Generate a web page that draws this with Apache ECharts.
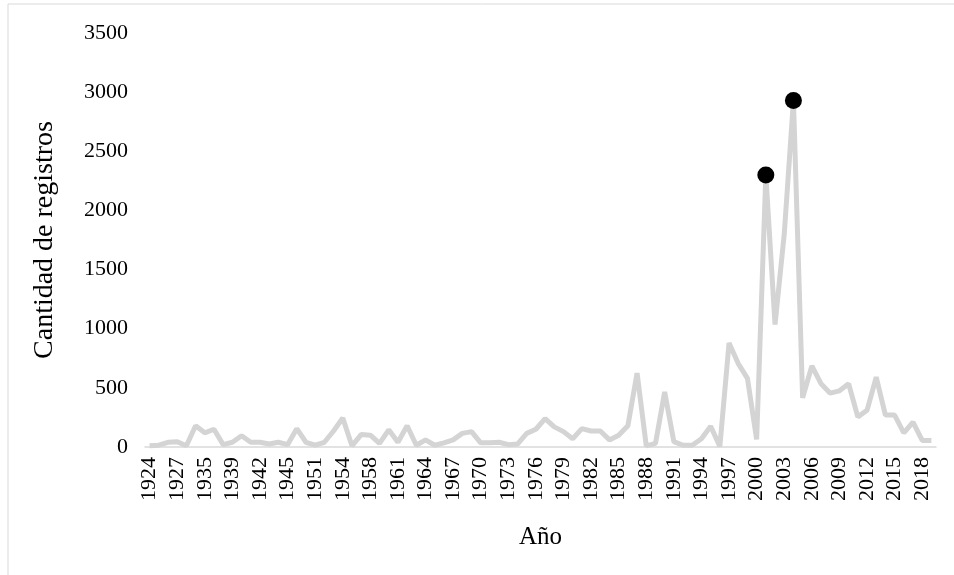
<!DOCTYPE html>
<html>
<head>
<meta charset="utf-8">
<script src="https://cdn.jsdelivr.net/npm/echarts@6/dist/echarts.min.js"></script>
<style>html,body{margin:0;padding:0;background:#fff;}#c{width:954px;height:575px;}</style>
</head>
<body>
<div id="c"></div>
<script>
var years = [1924,1925,1926,1927,1930,1933,1935,1936,1937,1939,1940,1941,1942,1943,1944,1945,1947,1949,1951,1952,1953,1954,1955,1956,1958,1959,1960,
1961,1962,1963,1964,1965,1966,1967,1968,1969,1970,1971,1972,1973,1974,1975,1976,1977,1978,1979,1980,
1981,1982,1983,1984,1985,1986,1987,1988,1989,1990,1991,1992,1993,1994,1995,1996,1997,1998,1999,2000,
2001,2002,2003,2004,2005,2006,2007,2008,2009,2010,2011,2012,2013,2014,2015,2016,2017,2018,2019];
var registros = [10,15,40,45,10,180,120,150,20,40,95,40,40,25,40,20,155,40,15,40,135,245,10,105,100,30,145,
40,180,15,60,15,35,60,115,130,35,35,40,20,25,115,150,240,170,130,70,
155,135,135,60,100,180,625,10,30,465,45,15,15,70,175,5,880,705,580,65,
2300,1035,1800,2930,415,685,535,455,475,535,255,310,590,270,270,120,210,55,55];
var highlightYears = [2001, 2004];
var yTicks = [0, 500, 1000, 1500, 2000, 2500, 3000, 3500];

var chart = echarts.init(document.getElementById('c'));
var font = "'Liberation Serif', 'Times New Roman', serif";
chart.setOption({
  animation: false,
  backgroundColor: '#fff',
  graphic: [{
    type: 'rect', shape: {x: 8, y: 4, width: 1000, height: 700},
    style: {fill: 'none', stroke: '#d9d9d9', lineWidth: 1}, silent: true
  }],
  grid: {left: 145, right: 18, top: 33, bottom: 128, containLabel: false},
  xAxis: {
    type: 'category',
    data: years.map(String),
    boundaryGap: true,
    axisLine: {lineStyle: {color: '#d9d9d9', width: 1.5}},
    axisTick: {show: false},
    axisLabel: {rotate: 90, interval: 2, margin: 10, color: '#000', fontFamily: font, fontSize: 22},
    name: 'Año', nameLocation: 'middle', nameGap: 78,
    nameTextStyle: {color: '#000', fontFamily: font, fontSize: 25}
  },
  yAxis: {
    type: 'value', min: yTicks[0], max: yTicks[yTicks.length - 1], interval: 500,
    axisLine: {show: false}, axisTick: {show: false}, splitLine: {show: false},
    axisLabel: {margin: 17, color: '#000', fontFamily: font, fontSize: 22,
      formatter: function (v) { return String(v); }},
    name: 'Cantidad de registros', nameLocation: 'middle', nameGap: 86,
    nameTextStyle: {color: '#000', fontFamily: font, fontSize: 28}
  },
  series: [{
    type: 'line',
    data: registros,
    showSymbol: true,
    showAllSymbol: true,
    symbol: 'circle',
    symbolSize: function (v, p) { return highlightYears.indexOf(years[p.dataIndex]) >= 0 ? 17 : 0; },
    itemStyle: {color: '#000', borderWidth: 0},
    lineStyle: {color: '#d4d4d4', width: 5},
    z: 2
  }]
});
</script>
</body>
</html>
